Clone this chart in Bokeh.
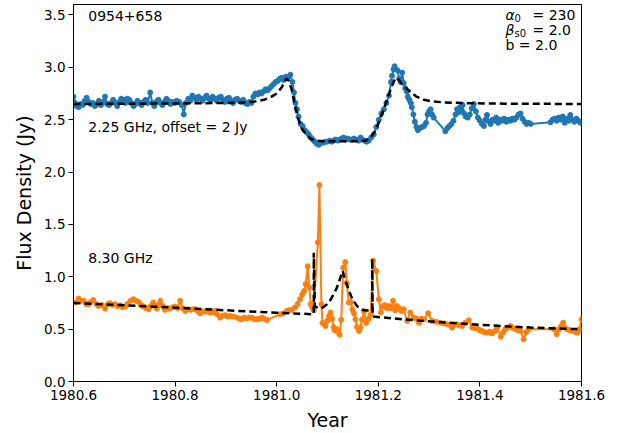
from bokeh.plotting import figure
from bokeh.models import FixedTicker, Label
from bokeh.embed import file_html
from bokeh.resources import INLINE

# ---------------- data ----------------
OFFSET_225 = 2.0  # 2.25 GHz curve shifted up by 2 Jy

t225 = [1980.600, 1980.603, 1980.606, 1980.610, 1980.614, 1980.618, 1980.622, 1980.626, 1980.630, 1980.634,
        1980.638, 1980.642, 1980.646, 1980.650, 1980.654, 1980.658, 1980.662, 1980.666, 1980.670, 1980.674,
        1980.678, 1980.682, 1980.686, 1980.690, 1980.694, 1980.698, 1980.702, 1980.706, 1980.710, 1980.714,
        1980.718, 1980.722, 1980.726, 1980.730, 1980.734, 1980.738, 1980.742, 1980.746, 1980.751, 1980.755,
        1980.759, 1980.763, 1980.767, 1980.771, 1980.775, 1980.779, 1980.783, 1980.787, 1980.791, 1980.795,
        1980.799, 1980.803, 1980.808, 1980.813, 1980.817, 1980.821, 1980.826, 1980.830, 1980.834, 1980.838,
        1980.842, 1980.846, 1980.850, 1980.854, 1980.858, 1980.862, 1980.866, 1980.870, 1980.874, 1980.878,
        1980.882, 1980.886, 1980.890, 1980.894, 1980.898, 1980.902, 1980.906, 1980.910, 1980.914, 1980.918,
        1980.922, 1980.926, 1980.930, 1980.934, 1980.938, 1980.942, 1980.946, 1980.950, 1980.954, 1980.958,
        1980.962, 1980.966, 1980.970, 1980.974, 1980.978, 1980.982, 1980.986, 1980.990, 1980.994, 1980.998,
        1981.002, 1981.006, 1981.010, 1981.014, 1981.018, 1981.022, 1981.027, 1981.031, 1981.034, 1981.037,
        1981.040, 1981.043, 1981.047, 1981.051, 1981.055, 1981.059, 1981.063, 1981.067, 1981.071, 1981.075,
        1981.079, 1981.083, 1981.087, 1981.091, 1981.095, 1981.099, 1981.104, 1981.108, 1981.112, 1981.116,
        1981.120, 1981.124, 1981.128, 1981.132, 1981.136, 1981.140, 1981.144, 1981.148, 1981.152, 1981.156,
        1981.161, 1981.165, 1981.169, 1981.173, 1981.177, 1981.181, 1981.186, 1981.191, 1981.196, 1981.201,
        1981.206, 1981.211, 1981.216, 1981.221, 1981.225, 1981.227, 1981.230, 1981.232, 1981.235, 1981.238,
        1981.241, 1981.244, 1981.247, 1981.250, 1981.253, 1981.256, 1981.258, 1981.261, 1981.264, 1981.266,
        1981.269, 1981.272, 1981.275, 1981.278, 1981.282, 1981.286, 1981.290, 1981.294, 1981.297, 1981.300,
        1981.303, 1981.306, 1981.309, 1981.332, 1981.336, 1981.340, 1981.344, 1981.348, 1981.352, 1981.355,
        1981.358, 1981.361, 1981.364, 1981.366, 1981.369, 1981.372, 1981.376, 1981.380, 1981.384, 1981.388,
        1981.392, 1981.396, 1981.400, 1981.404, 1981.408, 1981.411, 1981.414, 1981.418, 1981.421, 1981.425,
        1981.429, 1981.432, 1981.436, 1981.440, 1981.444, 1981.448, 1981.452, 1981.456, 1981.460, 1981.464,
        1981.468, 1981.472, 1981.476, 1981.480, 1981.484, 1981.488, 1981.492, 1981.496, 1981.500, 1981.539,
        1981.543, 1981.547, 1981.551, 1981.555, 1981.559, 1981.563, 1981.567, 1981.571, 1981.575, 1981.578,
        1981.582, 1981.586, 1981.590, 1981.594, 1981.598]
s225 = [0.72, 0.66, 0.63, 0.62, 0.65, 0.64, 0.68, 0.71, 0.67, 0.65,
        0.66, 0.63, 0.65, 0.68, 0.64, 0.67, 0.72, 0.65, 0.64, 0.66,
        0.69, 0.66, 0.63, 0.67, 0.70, 0.69, 0.66, 0.70, 0.69, 0.66,
        0.63, 0.65, 0.68, 0.66, 0.64, 0.67, 0.69, 0.66, 0.76, 0.66,
        0.63, 0.67, 0.69, 0.66, 0.64, 0.67, 0.70, 0.68, 0.65, 0.67,
        0.66, 0.68, 0.67, 0.64, 0.55, 0.66, 0.70, 0.68, 0.73, 0.71,
        0.69, 0.72, 0.70, 0.68, 0.71, 0.73, 0.70, 0.69, 0.72, 0.70,
        0.68, 0.71, 0.72, 0.69, 0.67, 0.70, 0.71, 0.68, 0.66, 0.69,
        0.70, 0.68, 0.67, 0.69, 0.66, 0.65, 0.67, 0.66, 0.72, 0.75,
        0.74, 0.76, 0.75, 0.77, 0.79, 0.78, 0.80, 0.82, 0.84, 0.86,
        0.87, 0.89, 0.90, 0.88, 0.91, 0.90, 0.93, 0.86, 0.76, 0.66,
        0.60, 0.53, 0.46, 0.44, 0.40, 0.38, 0.36, 0.33, 0.31, 0.29,
        0.27, 0.26, 0.28, 0.28, 0.29, 0.29, 0.30, 0.29, 0.30, 0.31,
        0.30, 0.31, 0.32, 0.33, 0.31, 0.32, 0.31, 0.31, 0.32, 0.31,
        0.30, 0.33, 0.31, 0.30, 0.29, 0.30, 0.33, 0.36, 0.43, 0.50,
        0.56, 0.60, 0.66, 0.73, 0.86, 0.92, 0.98, 1.01, 0.98, 0.97,
        0.89, 0.86, 0.95, 0.85, 0.80, 0.77, 0.72, 0.69, 0.66, 0.62,
        0.55, 0.48, 0.43, 0.40, 0.42, 0.43, 0.44, 0.47, 0.55, 0.58,
        0.60, 0.55, 0.52, 0.39, 0.42, 0.44, 0.46, 0.49, 0.55, 0.60,
        0.57, 0.62, 0.58, 0.64, 0.56, 0.53, 0.52, 0.55, 0.61, 0.65,
        0.58, 0.52, 0.49, 0.46, 0.44, 0.50, 0.545, 0.48, 0.46, 0.50,
        0.49, 0.52, 0.47, 0.50, 0.49, 0.51, 0.48, 0.50, 0.49, 0.51,
        0.50, 0.52, 0.55, 0.56, 0.51, 0.48, 0.46, 0.47, 0.46, 0.475,
        0.50, 0.51, 0.49, 0.52, 0.50, 0.53, 0.47, 0.51, 0.49, 0.545,
        0.50, 0.48, 0.51, 0.49, 0.47]

m225_t = [1980.600, 1980.700, 1980.800, 1980.900, 1980.940, 1980.960, 1980.975, 1980.990, 1981.000, 1981.010,
          1981.019, 1981.024, 1981.030, 1981.035, 1981.040, 1981.045, 1981.050, 1981.058, 1981.066, 1981.075,
          1981.090, 1981.120, 1981.150, 1981.175, 1981.185, 1981.195, 1981.205, 1981.215, 1981.225, 1981.233,
          1981.238, 1981.245, 1981.255, 1981.265, 1981.275, 1981.290, 1981.305, 1981.330, 1981.380, 1981.450,
          1981.600]
m225_s = [0.650, 0.652, 0.655, 0.660, 0.665, 0.675, 0.690, 0.720, 0.750, 0.810,
          0.895, 0.870, 0.780, 0.650, 0.550, 0.470, 0.410, 0.360, 0.320, 0.300,
          0.295, 0.295, 0.295, 0.300, 0.330, 0.400, 0.520, 0.660, 0.800, 0.890,
          0.895, 0.850, 0.800, 0.760, 0.720, 0.690, 0.675, 0.665, 0.657, 0.653,
          0.650]

t830 = [1980.603, 1980.610, 1980.614, 1980.620, 1980.625, 1980.630, 1980.634, 1980.639, 1980.645, 1980.649,
        1980.656, 1980.662, 1980.668, 1980.672, 1980.677, 1980.682, 1980.687, 1980.692, 1980.697, 1980.702,
        1980.706, 1980.712, 1980.718, 1980.723, 1980.728, 1980.733, 1980.738, 1980.743, 1980.748, 1980.752,
        1980.757, 1980.761, 1980.764, 1980.767, 1980.771, 1980.776, 1980.780, 1980.786, 1980.790, 1980.796,
        1980.800, 1980.805, 1980.810, 1980.815, 1980.820, 1980.825, 1980.830, 1980.835, 1980.840, 1980.845,
        1980.849, 1980.855, 1980.859, 1980.864, 1980.869, 1980.874, 1980.879, 1980.883, 1980.889, 1980.894,
        1980.899, 1980.903, 1980.908, 1980.915, 1980.922, 1980.927, 1980.931, 1980.936, 1980.941, 1980.946,
        1980.951, 1980.956, 1980.961, 1980.966, 1980.971, 1980.975, 1980.981, 1981.007, 1981.013, 1981.020,
        1981.025, 1981.030, 1981.036, 1981.041, 1981.046, 1981.050, 1981.054, 1981.057, 1981.061, 1981.064,
        1981.067, 1981.070, 1981.073, 1981.081, 1981.084, 1981.088, 1981.090, 1981.093, 1981.096, 1981.100,
        1981.103, 1981.106, 1981.109, 1981.112, 1981.114, 1981.118, 1981.121, 1981.124, 1981.127, 1981.131,
        1981.135, 1981.138, 1981.142, 1981.146, 1981.149, 1981.152, 1981.155, 1981.158, 1981.162, 1981.165,
        1981.168, 1981.172, 1981.176, 1981.181, 1981.185, 1981.190, 1981.196, 1981.201, 1981.205, 1981.209,
        1981.213, 1981.217, 1981.221, 1981.225, 1981.229, 1981.233, 1981.237, 1981.241, 1981.245, 1981.250,
        1981.257, 1981.263, 1981.270, 1981.275, 1981.280, 1981.285, 1981.290, 1981.298, 1981.306, 1981.314,
        1981.322, 1981.329, 1981.336, 1981.341, 1981.345, 1981.350, 1981.355, 1981.360, 1981.365, 1981.371,
        1981.378, 1981.385, 1981.390, 1981.395, 1981.400, 1981.404, 1981.409, 1981.414, 1981.419, 1981.424,
        1981.429, 1981.434, 1981.441, 1981.446, 1981.450, 1981.455, 1981.460, 1981.465, 1981.470, 1981.475,
        1981.480, 1981.486, 1981.491, 1981.496, 1981.546, 1981.551, 1981.556, 1981.560, 1981.564, 1981.568,
        1981.572, 1981.577, 1981.582, 1981.587, 1981.592, 1981.596, 1981.600]
s830 = [0.754, 0.792, 0.770, 0.770, 0.740, 0.738, 0.760, 0.779, 0.740, 0.722,
        0.730, 0.697, 0.740, 0.747, 0.730, 0.738, 0.720, 0.728, 0.710, 0.716,
        0.740, 0.770, 0.786, 0.770, 0.760, 0.730, 0.716, 0.700, 0.690, 0.720,
        0.754, 0.720, 0.697, 0.730, 0.770, 0.720, 0.684, 0.700, 0.697, 0.710,
        0.716, 0.700, 0.770, 0.700, 0.674, 0.690, 0.684, 0.690, 0.690, 0.670,
        0.652, 0.670, 0.665, 0.670, 0.658, 0.660, 0.674, 0.640, 0.610, 0.630,
        0.633, 0.620, 0.626, 0.620, 0.610, 0.600, 0.594, 0.610, 0.601, 0.610,
        0.610, 0.595, 0.594, 0.600, 0.610, 0.600, 0.588, 0.642, 0.650, 0.674,
        0.680, 0.684, 0.706, 0.740, 0.786, 0.830, 0.865, 0.930, 1.100, 0.900,
        0.740, 0.706, 0.680, 1.330, 1.876, 0.738, 0.560, 0.550, 0.530, 0.580,
        0.626, 0.660, 0.600, 0.520, 0.490, 0.500, 0.470, 0.448, 0.590, 1.088,
        1.140, 0.940, 0.754, 0.760, 0.690, 0.650, 0.594, 0.520, 0.483, 0.515,
        0.590, 0.670, 0.560, 0.600, 0.640, 1.152, 1.056, 0.786, 0.660, 0.720,
        0.730, 0.700, 0.720, 0.700, 0.770, 0.680, 0.720, 0.700, 0.674, 0.690,
        0.578, 0.658, 0.610, 0.600, 0.562, 0.600, 0.594, 0.652, 0.578, 0.570,
        0.562, 0.555, 0.546, 0.540, 0.515, 0.540, 0.546, 0.535, 0.530, 0.560,
        0.585, 0.515, 0.510, 0.505, 0.490, 0.483, 0.470, 0.467, 0.475, 0.460,
        0.480, 0.515, 0.428, 0.470, 0.499, 0.515, 0.530, 0.510, 0.499, 0.490,
        0.483, 0.403, 0.470, 0.499, 0.499, 0.451, 0.500, 0.530, 0.562, 0.510,
        0.499, 0.490, 0.483, 0.475, 0.467, 0.500, 0.594]

m830_t = [1980.600, 1980.700, 1980.800, 1980.900, 1981.000, 1981.073, 1981.073, 1981.075, 1981.081, 1981.086,
          1981.092, 1981.099, 1981.106, 1981.112, 1981.118, 1981.122, 1981.126, 1981.130, 1981.134, 1981.139,
          1981.144, 1981.149, 1981.158, 1981.165, 1981.172, 1981.188, 1981.188, 1981.189, 1981.250, 1981.300,
          1981.350, 1981.400, 1981.450, 1981.500, 1981.600]
m830_s = [0.750, 0.728, 0.705, 0.680, 0.657, 0.642, 1.230, 0.720, 0.700, 0.696,
          0.710, 0.738, 0.780, 0.833, 0.890, 0.945, 1.000, 1.056, 0.980, 0.913,
          0.845, 0.785, 0.721, 0.695, 0.680, 0.676, 1.174, 0.620, 0.593, 0.575,
          0.558, 0.542, 0.527, 0.515, 0.499]

x_tick_labels = ["1980.6", "1980.8", "1981.0", "1981.2", "1981.4", "1981.6"]
y_tick_labels = ["0.0", "0.5", "1.0", "1.5", "2.0", "2.5", "3.0", "3.5"]

# ---------------- plot ----------------
FONT = "DejaVu Sans"
BLUE = "#1f77b4"
ORANGE = "#ff7f0e"

p = figure(output_backend="svg", toolbar_location=None,
           frame_width=508, frame_height=377,
           x_range=(1980.6, 1981.6), y_range=(0.0, 3.6),
           min_border_left=73, min_border_right=40, min_border_top=4, min_border_bottom=44)
p.background_fill_color = "white"
p.border_fill_color = "white"
p.outline_line_color = "black"
p.outline_line_width = 1
p.xgrid.visible = False
p.ygrid.visible = False

y225 = [s + OFFSET_225 for s in s225]
ym225 = [s + OFFSET_225 for s in m225_s]

p.line(t225, y225, line_color=BLUE, line_width=2)
p.scatter(t225, y225, size=5, fill_color=BLUE, line_color=BLUE)
p.line(t830, s830, line_color=ORANGE, line_width=2)
p.scatter(t830, s830, size=5, fill_color=ORANGE, line_color=ORANGE)

p.line(m225_t, ym225, line_color="black", line_width=2.5, line_dash="7 4")
p.line(m830_t, m830_s, line_color="black", line_width=2.5, line_dash="7 4")

# axes
xt = [float(s) for s in x_tick_labels]
yt = [float(s) for s in y_tick_labels]
p.xaxis.ticker = FixedTicker(ticks=xt)
p.yaxis.ticker = FixedTicker(ticks=yt)
p.xaxis.major_label_overrides = {v: s for v, s in zip(xt, x_tick_labels)}
p.yaxis.major_label_overrides = {v: s for v, s in zip(yt, y_tick_labels)}
for ax in (p.xaxis[0], p.yaxis[0]):
    ax.axis_line_color = "black"
    ax.major_tick_line_color = "black"
    ax.major_tick_out = 5
    ax.major_tick_in = 0
    ax.minor_tick_line_color = None
    ax.major_label_text_font = FONT
    ax.major_label_text_font_size = "13.5px"
    ax.major_label_text_color = "black"
    ax.major_label_standoff = 3
    ax.axis_label_text_font = FONT
    ax.axis_label_text_font_size = "19px"
    ax.axis_label_text_font_style = "normal"
    ax.axis_label_text_color = "black"
p.xaxis.axis_label = "Year"
p.yaxis.axis_label = "Flux Density (Jy)"
p.xaxis.axis_label_standoff = 6
p.yaxis.axis_label_standoff = 6

def add_label(x, y, text, align="left", size="14px", style="normal", dx=0, dy=0):
    p.add_layout(Label(x=x, y=y, text=text, text_font=FONT, text_font_size=size,
                       text_font_style=style, x_offset=dx, y_offset=dy,
                       text_color="black", text_align=align, text_baseline="middle"))

XL = 1980.629   # left annotations
XR = 1981.4504  # parameter block
add_label(XL, 3.49, "0954+658")
add_label(XR, 3.50, "α", style="italic")
add_label(XR, 3.50, "0", size="10px", dx=9, dy=-3)
add_label(XR, 3.50, "= 230", dx=27)
add_label(XR, 3.355, "β", style="italic")
add_label(XR, 3.355, "s0", size="10px", dx=9, dy=-3)
add_label(XR, 3.355, "= 2.0", dx=27)
add_label(XR, 3.215, "b = 2.0")
add_label(XL, 2.43, "2.25 GHz, offset = 2 Jy")
add_label(XL, 1.18, "8.30 GHz")

open("out.html", "w").write(file_html(p, INLINE))
